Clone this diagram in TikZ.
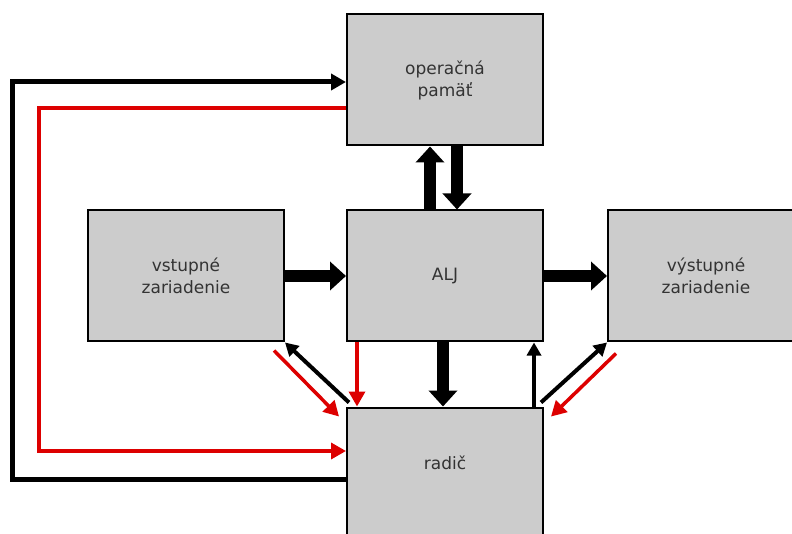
\documentclass[tikz,border=0pt]{standalone}
\usepackage{fontspec}
\setmainfont{DejaVu Sans}
\usetikzlibrary{arrows.meta}
\definecolor{boxgray}{HTML}{CCCCCC}
\definecolor{txtgray}{HTML}{333333}
\definecolor{linered}{HTML}{DD0000}
\begin{document}
\begin{tikzpicture}[x=1pt,y=1pt,
	unit/.style={draw=black, line width=2pt, fill=boxgray, text=txtgray, align=center,
		minimum width=196pt, minimum height=131pt, inner sep=0pt,
		font=\fontsize{17}{22}\selectfont},
	bus/.style={line width=12pt, -{Triangle[width=28pt,length=16pt]}},
	ctrl/.style={line width=4pt, -{Triangle[width=14pt,length=13pt]}},
	sig/.style={line width=3.5pt, linered, -{Triangle[width=16pt,length=15pt]}},
	loopline/.style={line width=5pt, -{Triangle[width=16pt,length=15pt]}}]
	\useasboundingbox (0,0) rectangle (792,-534);
	% bloky
	\node[unit] (pam) at (445,-80) {operačná\\pamäť};
	\node[unit] (vst) at (186,-276) {vstupné\\zariadenie};
	\node[unit] (alj) at (445,-276) {ALJ};
	\node[unit] (vys) at (706,-276) {výstupné\\zariadenie};
	\node[unit, label={[text=txtgray, font=\fontsize{17}{22}\selectfont, yshift=10pt]center:radič}] (rad) at (445,-473) {};
	% zbernice
	\draw[bus] (vst.east) -- (alj.west);
	\draw[bus] (alj.east) -- (vys.west);
	\draw[bus] ([xshift=-15pt]alj.north) -- ([xshift=-15pt]pam.south);
	\draw[bus] ([xshift=12pt]pam.south) -- ([xshift=12pt]alj.north);
	\draw[bus] ([xshift=-2pt]alj.south) -- ([xshift=-2pt]rad.north);
	% riadiace signaly
	\draw[ctrl] ([xshift=-10pt]rad.north east) -- ([xshift=-10pt]alj.south east);
	\draw[ctrl] ([shift={(3pt,4pt)}]rad.north west) -- (vst.south east);
	\draw[ctrl] ([shift={(-3pt,4pt)}]rad.north east) -- (vys.south west);
	\draw[sig] ([xshift=11pt]alj.south west) -- ([xshift=11pt]rad.north west);
	\draw[sig] ([shift={(-11pt,-8pt)}]vst.south east) -- ([shift={(-7pt,-10pt)}]rad.north west);
	\draw[sig] ([shift={(9pt,-11pt)}]vys.south west) -- ([shift={(7pt,-10pt)}]rad.north east);
	% spatne vazby
	\draw[loopline] ([yshift=-6pt]rad.west) -- ++(-334pt,0) |- ([yshift=-2pt]pam.west);
	\draw[sig] ([yshift=-28pt]pam.west) -- ++(-307pt,0) |- ([yshift=22pt]rad.west);
\end{tikzpicture}
\end{document}
